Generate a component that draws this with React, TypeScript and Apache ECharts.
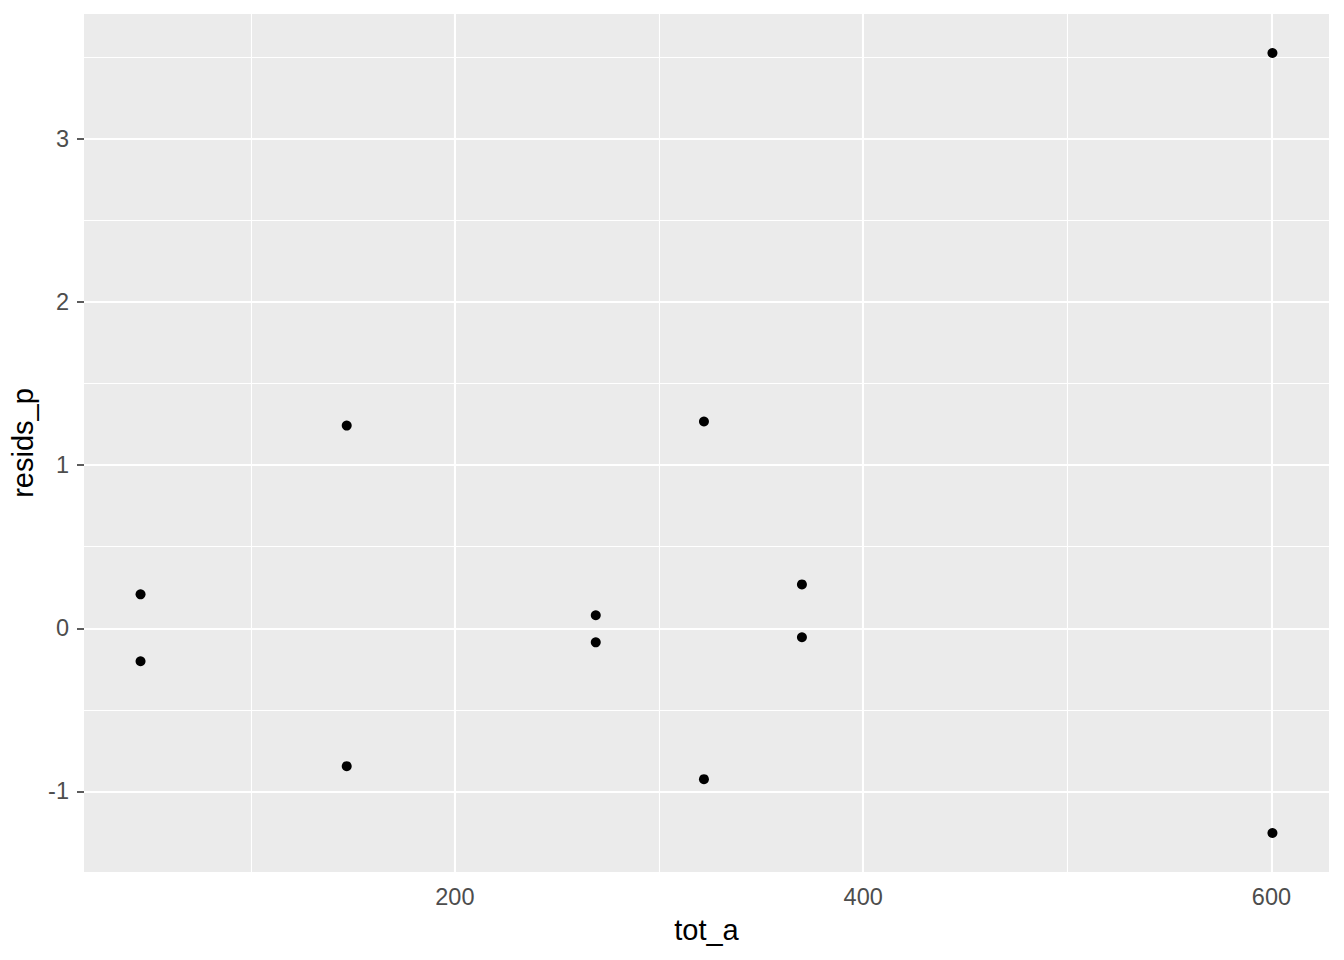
import React, { useEffect, useRef } from "react";
import * as echarts from "echarts";

const totA = [46, 46, 147, 147, 269, 269, 322, 322, 370, 370, 600.5, 600.5];
const residsP = [0.208, -0.202, 1.243, -0.845, 0.08, -0.086, 1.268, -0.925, 0.269, -0.055, 3.527, -1.255];
const xMajor = [200, 400, 600];
const xMinor = [100, 300, 500];
const yMajor = [-1, 0, 1, 2, 3];
const yMinor = [-0.5, 0.5, 1.5, 2.5, 3.5];
const xRange = [18.3, 628.2];
const yRange = [-1.494, 3.766];

export default function App() {
  const ref = useRef<HTMLDivElement>(null);
  useEffect(() => {
    const chart = echarts.init(ref.current!, null, { renderer: "svg" });
    const font = "Liberation Sans, Arial, sans-serif";
    const gridLine = (vals: number[], key: string, w: number) =>
      vals.map((v) => ({ [key]: v, lineStyle: { color: "#FFFFFF", width: w, type: "solid" } }));
    chart.setOption({
      animation: false,
      backgroundColor: "#FFFFFF",
      grid: {
        left: 84,
        right: 15,
        top: 14,
        bottom: 88,
        show: true,
        backgroundColor: "#EBEBEB",
        borderWidth: 0,
      },
      xAxis: {
        type: "value",
        min: xRange[0],
        max: xRange[1],
        name: "tot_a",
        nameLocation: "middle",
        nameGap: 43,
        nameTextStyle: { fontFamily: font, fontSize: 29, color: "#000000" },
        axisLine: { show: false },
        axisTick: { show: true, customValues: xMajor, length: 7, lineStyle: { color: "#333333", width: 1.6 } },
        axisLabel: { customValues: xMajor, fontFamily: font, fontSize: 23.5, color: "#4D4D4D", margin: 13 },
        splitLine: { show: false },
      },
      yAxis: {
        type: "value",
        min: yRange[0],
        max: yRange[1],
        name: "resids_p",
        nameLocation: "middle",
        nameGap: 41,
        nameTextStyle: { fontFamily: font, fontSize: 29, color: "#000000" },
        axisLine: { show: false },
        axisTick: { show: true, customValues: yMajor, length: 7, lineStyle: { color: "#333333", width: 1.6 } },
        axisLabel: { customValues: yMajor, fontFamily: font, fontSize: 23.5, color: "#4D4D4D", margin: 15 },
        splitLine: { show: false },
      },
      series: [
        {
          type: "scatter",
          data: [],
          z: 1,
          silent: true,
          markLine: {
            silent: true,
            symbol: "none",
            label: { show: false },
            animation: false,
            data: [
              ...gridLine(xMinor, "xAxis", 1.1),
              ...gridLine(yMinor, "yAxis", 1.1),
              ...gridLine(xMajor, "xAxis", 2.1),
              ...gridLine(yMajor, "yAxis", 2.1),
            ],
          },
        },
        {
          type: "scatter",
          z: 5,
          symbol: "circle",
          symbolSize: 10,
          itemStyle: { color: "#000000", opacity: 1 },
          data: totA.map((x, i) => [x, residsP[i]]),
        },
      ],
    });
    return () => chart.dispose();
  }, []);
  return <div ref={ref} style={{ width: 1344, height: 960, margin: -8 }} />;
}
